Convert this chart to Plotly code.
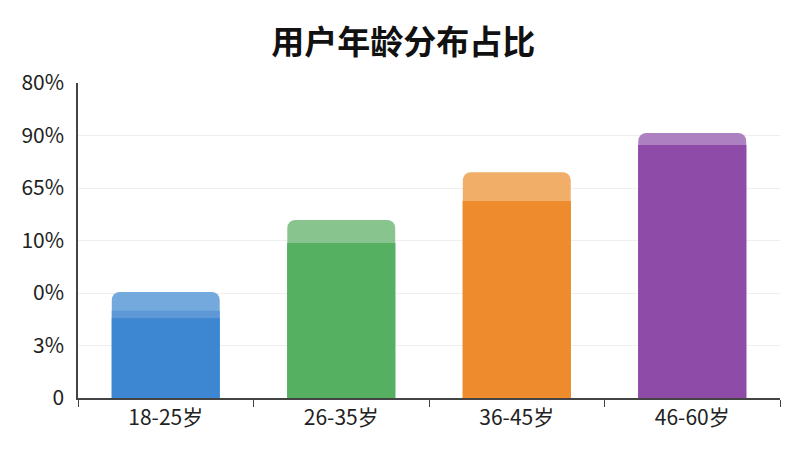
import plotly.graph_objects as go

FONT_FAMILY = "Noto Sans CJK SC"

categories = ["18-25岁", "26-35岁", "36-45岁", "46-60岁"]
# bar heights in tick-slot units (the axis labels are not evenly scaled)
top_values = [2.02, 3.39, 4.30, 5.05]
mid_values = [1.66, 2.95, 3.75, 4.82]
base_values = [1.52, 2.95, 3.75, 4.82]

tick_vals = [0, 1, 2, 3, 4, 5, 6]
tick_text = ["0", "3%", "0%", "10%", "65%", "90%", "80%"]

LIGHT_COLORS = ["#74a9de", "#88c58e", "#f0ae68", "#ad80c1"]
MID_COLORS = ["#5d97d6", "#56b062", "#ee8b2d", "#8e4ba7"]
DARK_COLORS = ["#3d86d1", "#56b062", "#ee8b2d", "#8e4ba7"]

fig = go.Figure()

fig.add_trace(
    go.Bar(
        x=categories,
        y=top_values,
        marker=dict(color=LIGHT_COLORS, cornerradius=8, line=dict(width=0)),
        hoverinfo="skip",
        showlegend=False,
    )
)
fig.add_trace(
    go.Bar(
        x=categories,
        y=mid_values,
        marker=dict(color=MID_COLORS, line=dict(width=0)),
        hoverinfo="skip",
        showlegend=False,
    )
)
fig.add_trace(
    go.Bar(
        x=categories,
        y=base_values,
        marker=dict(color=DARK_COLORS, line=dict(width=0)),
        showlegend=False,
    )
)

# page body adds an 8px offset, so margins are shifted to compensate
fig.update_layout(
    title=dict(
        text="<b>用户年龄分布占比</b>",
        x=0.494,
        xanchor="center",
        y=0.924,
        yanchor="middle",
        font=dict(family=FONT_FAMILY, size=33, color="#111111"),
    ),
    barmode="overlay",
    bargap=0.385,
    width=800,
    height=450,
    margin=dict(l=70, r=28, t=75, b=60),
    paper_bgcolor="white",
    plot_bgcolor="white",
    font=dict(family=FONT_FAMILY, size=21, color="#222222"),
    xaxis=dict(
        automargin=False,
        showline=True,
        linecolor="#444444",
        linewidth=1.5,
        ticks="outside",
        tickson="boundaries",
        ticklen=7,
        tickcolor="#444444",
        showgrid=False,
        tickfont=dict(size=21),
    ),
    yaxis=dict(
        automargin=False,
        range=[0, 6],
        tickvals=tick_vals,
        ticktext=tick_text,
        showline=True,
        linecolor="#444444",
        linewidth=1.5,
        showgrid=True,
        gridcolor="#efefef",
        zeroline=False,
        ticks="",
        ticklabelstandoff=8,
        tickfont=dict(size=21),
    ),
)

fig.write_html("out.html")
